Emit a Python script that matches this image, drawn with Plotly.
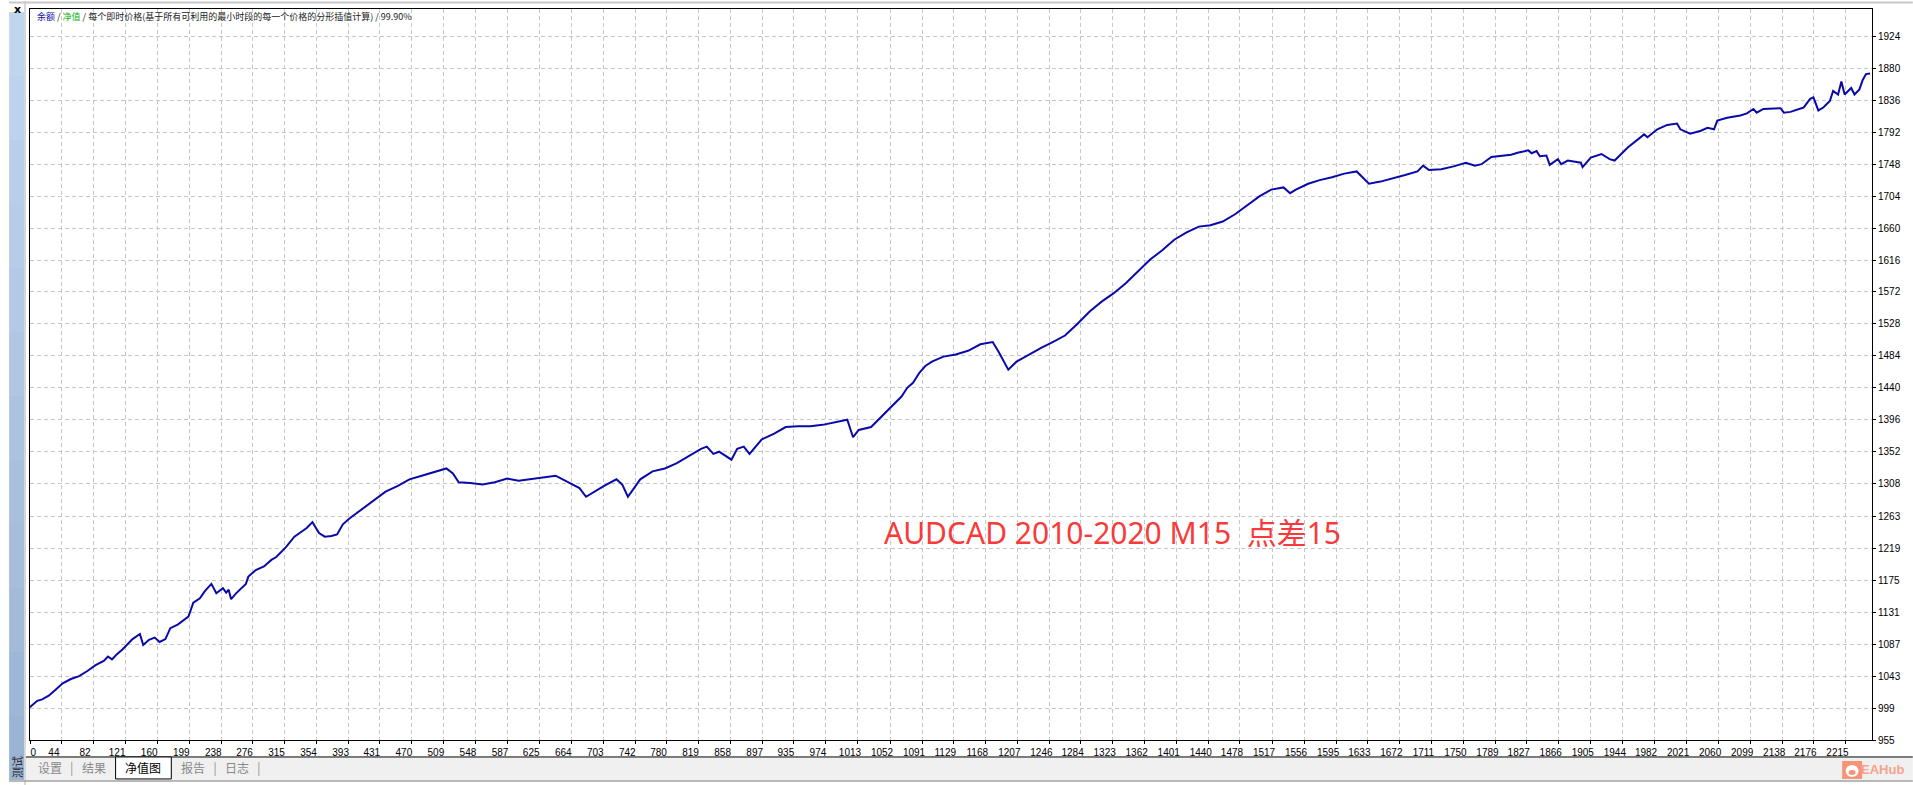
import plotly.graph_objects as go

# page and plot-area geometry (pixels)
W, H = 1913, 785
PL, PR, PT, PB = 21, 1872, 8, 740

# equity curve: trade number -> balance
trade_no = [
    5, 9, 14, 20, 28, 36, 45, 55, 65, 75, 85, 95, 100, 105, 110, 118, 123, 130, 139, 143,
    150, 157, 163, 170, 176, 185, 198, 201, 204, 212, 218, 226, 232, 240, 244, 247, 250, 256, 264, 268,
    271, 280, 290, 299, 305, 317, 327, 342, 349, 357, 364, 372, 379, 386, 394, 408, 423, 438, 453, 467,
    482, 497, 512, 520, 527, 541, 556, 571, 586, 600, 615, 630, 645, 660, 674, 682, 689, 704, 719, 726,
    733, 741, 748, 763, 778, 792, 807, 822, 829, 837, 844, 859, 866, 874, 881, 888, 896, 911, 925, 940,
    955, 970, 985, 1000, 1007, 1014, 1029, 1036, 1044, 1058, 1066, 1073, 1080, 1088, 1095, 1103, 1117, 1132, 1147, 1162,
    1177, 1184, 1191, 1196, 1206, 1221, 1236, 1250, 1265, 1280, 1295, 1310, 1324, 1339, 1354, 1369, 1383, 1398, 1413, 1428,
    1442, 1457, 1472, 1487, 1502, 1516, 1531, 1539, 1546, 1561, 1575, 1590, 1605, 1620, 1627, 1635, 1649, 1664, 1679, 1694,
    1701, 1708, 1723, 1738, 1753, 1764, 1772, 1784, 1796, 1808, 1817, 1829, 1833, 1839, 1843, 1851, 1855, 1865, 1869, 1877,
    1893, 1895, 1905, 1918, 1928, 1934, 1950, 1966, 1970, 1974, 1986, 1998, 2010, 2014, 2026, 2039, 2047, 2055, 2059, 2071,
    2087, 2095, 2103, 2107, 2115, 2136, 2140, 2148, 2164, 2172, 2176, 2182, 2188, 2196, 2200, 2206, 2210, 2214, 2218, 2222,
    2226, 2232, 2236, 2240, 2245,
]
equity = [
    1000, 1004, 1009, 1011, 1016, 1024, 1033, 1039, 1043, 1050, 1058, 1064, 1070, 1066, 1072, 1080, 1086, 1094, 1101, 1086,
    1093, 1096, 1090, 1094, 1109, 1114, 1125, 1134, 1144, 1150, 1160, 1170, 1157, 1164, 1158, 1162, 1149, 1157, 1165, 1170,
    1180, 1189, 1194, 1203, 1207, 1221, 1235, 1247, 1255, 1240, 1235, 1236, 1238, 1252, 1260, 1272, 1285, 1297, 1305, 1314,
    1319, 1324, 1329, 1322, 1310, 1309, 1307, 1310, 1315, 1312, 1314, 1316, 1319, 1310, 1302, 1290, 1295, 1305, 1314, 1307,
    1290, 1302, 1314, 1325, 1329, 1336, 1346, 1356, 1359, 1349, 1352, 1341, 1356, 1359, 1349, 1359, 1369, 1377, 1386, 1387,
    1387, 1389, 1393, 1396, 1372, 1382, 1386, 1394, 1403, 1419, 1428, 1440, 1447, 1461, 1470, 1476, 1483, 1486, 1491, 1500,
    1503, 1490, 1476, 1465, 1476, 1486, 1495, 1503, 1512, 1528, 1545, 1559, 1570, 1584, 1600, 1617, 1629, 1644, 1654, 1662,
    1664, 1669, 1679, 1691, 1704, 1713, 1716, 1708, 1713, 1721, 1726, 1730, 1735, 1738, 1730, 1721, 1724, 1728, 1733, 1738,
    1746, 1740, 1741, 1745, 1750, 1746, 1748, 1758, 1760, 1761, 1764, 1767, 1763, 1766, 1759, 1760, 1747, 1755, 1748, 1753,
    1750, 1744, 1757, 1762, 1755, 1753, 1771, 1785, 1789, 1785, 1796, 1802, 1804, 1796, 1790, 1794, 1798, 1796, 1808, 1812,
    1815, 1818, 1824, 1819, 1824, 1825, 1819, 1820, 1826, 1838, 1840, 1822, 1826, 1835, 1849, 1844, 1862, 1844, 1849, 1853,
    1844, 1851, 1864, 1872, 1873,
]

x_range = [5.2, 2247.3]
x_tick_vals = [5.4, 44, 82, 121, 160, 199, 238, 276, 315, 354, 393, 431, 470, 509, 548, 587, 625, 664, 703,
               742, 780, 819, 858, 897, 935, 974, 1013, 1052, 1091, 1129, 1168, 1207, 1246, 1284, 1323, 1362,
               1401, 1440, 1478, 1517, 1556, 1595, 1633, 1672, 1711, 1750, 1789, 1827, 1866, 1905, 1944,
               1982, 2021, 2060, 2099, 2138, 2176, 2215]
x_tick_labels = ["0"] + [str(v) for v in x_tick_vals[1:]]

y_range = [955, 1961.7]
y_tick_vals = [955, 999, 1043, 1087, 1131, 1175, 1219, 1263, 1308, 1352, 1396, 1440, 1484, 1528, 1572,
               1616, 1660, 1704, 1748, 1792, 1836, 1880, 1924]

tabs = ["设置", "结果", "净值图", "报告", "日志"]
tab_centers = [41, 85, 135, 185, 229]
active_tab = "净值图"

header_html = ('<span style="color:#1010a0">余额</span> / <span style="color:#10b010">净值</span>'
               ' / 每个即时价格(基于所有可利用的最小时段的每一个价格的分形插值计算) / 99.90%')
note_text = "AUDCAD 2010-2020 M15  点差15"


def px(x):
    return (x - PL) / (PR - PL)


def py(y):
    return (PB - y) / (PB - PT)


# MT4 puts the x labels just left of their grid line; labels are shifted as a group,
# the first one ("0") gets left padding so it stays inside the frame
FS = "\u2007"
x_ticktext = [FS * 4 + x_tick_labels[0]] + x_tick_labels[1:]

fig = go.Figure()
fig.add_trace(go.Scatter(x=trade_no, y=equity, mode="lines",
                         line=dict(color="#0a0aaa", width=2), hoverinfo="skip", showlegend=False))

axis_font = dict(family="Liberation Sans Narrow, Liberation Sans, Arial", size=10, color="black")
fig.update_xaxes(range=x_range, tickvals=x_tick_vals, ticktext=x_ticktext, tickangle=0,
                 ticklabelshift=-8, ticklabeloverflow="allow",
                 showgrid=True, gridcolor="#c6c6c6", griddash="4px,3px", gridwidth=1,
                 showline=True, linecolor="black", linewidth=1, mirror=True,
                 ticks="outside", ticklen=3, tickcolor="black", tickfont=axis_font, zeroline=False)
fig.update_yaxes(range=y_range, tickvals=y_tick_vals, side="right",
                 showgrid=True, gridcolor="#c6c6c6", griddash="4px,3px", gridwidth=1,
                 showline=True, linecolor="black", linewidth=1, mirror=True,
                 ticks="outside", ticklen=3, tickcolor="black", tickfont=axis_font, zeroline=False)

shapes = []
# left blue side strip (vertical gradient approximated by bands)
top_c, bot_c = (192, 213, 238), (156, 180, 212)
n_band = 12
for i in range(n_band):
    f = i / (n_band - 1)
    c = tuple(round(a + (b - a) * f) for a, b in zip(top_c, bot_c))
    y0 = 11 + (780 - 11) * i / n_band
    y1 = 11 + (780 - 11) * (i + 1) / n_band
    shapes.append(dict(type="rect", xref="paper", yref="paper", x0=px(0), x1=px(15), y0=py(y0), y1=py(y1),
                       fillcolor="rgb(%d,%d,%d)" % c, line=dict(width=0), layer="below"))
shapes.append(dict(type="line", xref="paper", yref="paper", x0=px(16), x1=px(16), y0=py(0), y1=py(785),
                   line=dict(color="#b0b0b0", width=1)))
shapes.append(dict(type="line", xref="paper", yref="paper", x0=px(0), x1=px(W), y0=py(1.5), y1=py(1.5),
                   line=dict(color="#c8c8c8", width=2)))
# bottom tab bar
shapes.append(dict(type="rect", xref="paper", yref="paper", x0=px(17), x1=px(W), y0=py(757), y1=py(780),
                   fillcolor="#f0f0f0", line=dict(width=0), layer="below"))
shapes.append(dict(type="line", xref="paper", yref="paper", x0=px(17), x1=px(W), y0=py(757), y1=py(757),
                   line=dict(color="black", width=1)))
shapes.append(dict(type="line", xref="paper", yref="paper", x0=px(0), x1=px(W), y0=py(781), y1=py(781),
                   line=dict(color="#a0a0a0", width=1.5)))
shapes.append(dict(type="rect", xref="paper", yref="paper", x0=px(107), x1=px(163), y0=py(757), y1=py(779),
                   fillcolor="white", line=dict(color="black", width=1)))
for sx in [63, 207, 251]:
    shapes.append(dict(type="line", xref="paper", yref="paper", x0=px(sx), x1=px(sx), y0=py(762), y1=py(776),
                       line=dict(color="#a0a0a0", width=1)))
# EAHub badge
shapes.append(dict(type="rect", xref="paper", yref="paper", x0=px(1842), x1=px(1862), y0=py(761), y1=py(779),
                   fillcolor="#f79478", line=dict(width=0)))
shapes.append(dict(type="circle", xref="paper", yref="paper", x0=px(1845.5), x1=px(1858.5), y0=py(765), y1=py(777),
                   fillcolor="white", line=dict(width=0)))
shapes.append(dict(type="circle", xref="paper", yref="paper", x0=px(1848.5), x1=px(1855.5), y0=py(770), y1=py(775),
                   fillcolor="#f79478", line=dict(width=0)))

annotations = [
    dict(x=px(26), y=py(16), xref="paper", yref="paper", text=header_html, showarrow=False,
         xanchor="left", yanchor="middle", font=dict(family="Noto Sans CJK SC", size=9, color="#222222")),
    dict(x=px(1109), y=py(532), xref="paper", yref="paper", text=note_text, showarrow=False,
         xanchor="center", yanchor="middle", font=dict(family="Noto Sans, Noto Sans CJK SC", size=30, color="#f73b3b")),
    dict(x=px(8), y=py(8), xref="paper", yref="paper", text="<b>x</b>", showarrow=False,
         xanchor="center", yanchor="middle", font=dict(family="DejaVu Sans", size=11, color="black")),
    dict(x=px(8), y=py(767), xref="paper", yref="paper", text="测试", showarrow=False, textangle=-90,
         xanchor="center", yanchor="middle", font=dict(family="Noto Sans CJK SC", size=11, color="#202020")),
    dict(x=px(1906), y=py(770), xref="paper", yref="paper", text="<b>EAHub</b>", showarrow=False,
         xanchor="right", yanchor="middle",
         font=dict(family="Liberation Sans Narrow, Liberation Sans", size=13, color="#f7a28c")),
]
for name, cx in zip(tabs, tab_centers):
    annotations.append(dict(x=px(cx), y=py(768), xref="paper", yref="paper", text=name, showarrow=False,
                            xanchor="center", yanchor="middle",
                            font=dict(family="Noto Sans CJK SC", size=12,
                                      color="black" if name == active_tab else "#8a8a8a")))

fig.update_layout(width=W, height=H, margin=dict(l=PL, r=W - PR, t=PT, b=H - PB, pad=0),
                  paper_bgcolor="white", plot_bgcolor="white", showlegend=False,
                  shapes=shapes, annotations=annotations)

# drop the default 8px body margin so the figure fills the window exactly
fig.write_html("out.html", config={"displayModeBar": False},
               post_script="document.body.style.margin='0';document.body.style.overflow='hidden';")
